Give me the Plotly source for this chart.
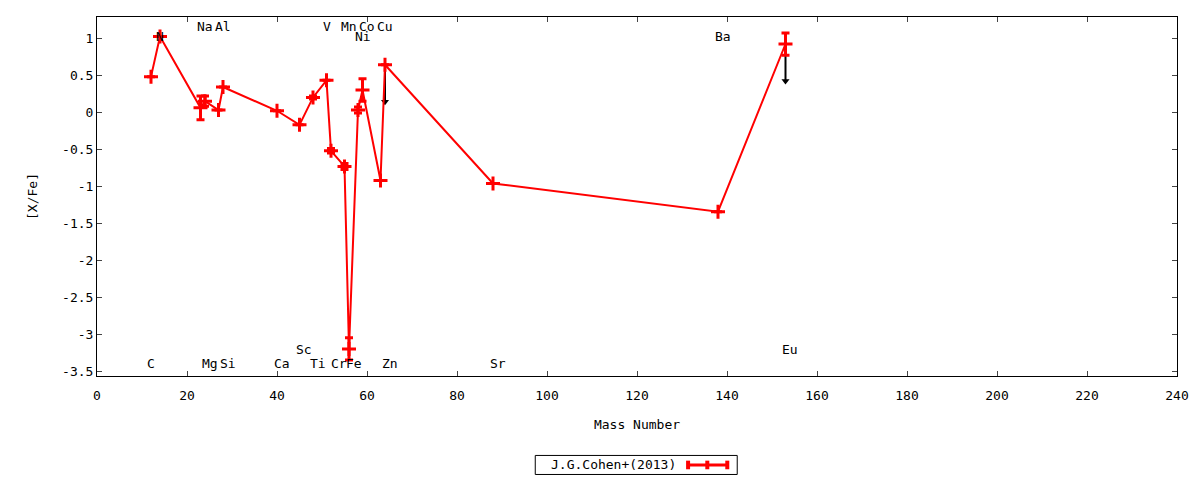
import plotly.graph_objects as go

# abundance pattern, J.G.Cohen+(2013)
mass = [12, 14, 23, 24, 27, 28, 40, 45, 48, 51, 52, 55, 56, 58, 59, 63, 64, 88, 138, 153]
xfe = [0.48, 1.02, 0.06, 0.15, 0.03, 0.34, 0.02, -0.17, 0.20, 0.43, -0.52, -0.73, -3.19, 0.03, 0.30, -0.92, 0.64, -0.96, -1.34, 0.92]
err = [0, 0, 0.16, 0.07, 0, 0, 0, 0, 0.02, 0, 0.03, 0.04, 0.15, 0.04, 0.15, 0, 0, 0, 0, 0.15]

# upper limits (arrow down)
lim_mass = [64, 153]
lim_from = [0.64, 0.92]
lim_to = [0.14, 0.42]

# element labels
el_name = ["C", "N", "Na", "Mg", "Al", "Si", "Ca", "Sc", "Ti", "V", "Cr", "Mn", "Fe", "Ni", "Co", "Cu", "Zn", "Sr", "Ba", "Eu"]
el_x = [12.1, 14.1, 24.1, 25.2, 27.9, 29.0, 41.2, 45.9, 49.2, 51.0, 53.7, 56.0, 57.0, 59.0, 60.0, 64.1, 65.2, 89.0, 139.0, 154.1]
el_y = [-3.39, 1.02, 1.15, -3.39, 1.15, -3.39, -3.39, -3.2, -3.39, 1.15, -3.39, 1.15, -3.39, 1.02, 1.15, 1.15, -3.39, -3.39, 1.02, -3.2]

xticks = list(range(0, 241, 20))
yticks = [1, 0.5, 0, -0.5, -1, -1.5, -2, -2.5, -3, -3.5]
yticktext = ["1", "0.5", "0", "-0.5", "-1", "-1.5", "-2", "-2.5", "-3", "-3.5"]

font = "DejaVu Sans Mono"

fig = go.Figure()

lx, ly = [], []
for m, a, b in zip(lim_mass, lim_from, lim_to):
    lx += [m, m, None]
    ly += [a, b, None]
fig.add_trace(go.Scatter(x=lx, y=ly, mode="lines", line=dict(color="black", width=2),
                         showlegend=False, hoverinfo="skip"))
fig.add_trace(go.Scatter(x=lim_mass, y=lim_to, mode="markers",
                         marker=dict(symbol="triangle-down", size=7, color="black"),
                         showlegend=False, hoverinfo="skip"))

fig.add_trace(go.Scatter(
    x=mass, y=xfe, mode="lines+markers", name="J.G.Cohen+(2013)",
    line=dict(color="#ff0000", width=2),
    marker=dict(symbol="cross-thin", size=10, line=dict(color="#ff0000", width=3)),
    error_y=dict(type="data", array=err, visible=True, color="#ff0000", thickness=3, width=4),
    showlegend=False,
))

for n, x, y in zip(el_name, el_x, el_y):
    fig.add_annotation(x=x, y=y, text=n, showarrow=False, xref="x", yref="y",
                       font=dict(family=font, size=13, color="black"))

# legend box drawn by hand (gnuplot style: text left, sample right)
fig.add_shape(type="rect", xref="paper", yref="paper", x0=0.4058, x1=0.5928, y0=-0.2743, y1=-0.2213,
              line=dict(color="black", width=1), fillcolor="white")
fig.add_annotation(x=0.478, y=-0.2478, xref="paper", yref="paper", text="J.G.Cohen+(2013)",
                   showarrow=False, yanchor="middle", xanchor="center",
                   font=dict(family=font, size=13, color="black"))
fig.add_shape(type="line", xref="paper", yref="paper", x0=0.5473, x1=0.5836, y0=-0.2478, y1=-0.2478,
              line=dict(color="#ff0000", width=3))
for cx in [0.5473, 0.5651, 0.5836]:
    fig.add_shape(type="line", xref="paper", yref="paper", x0=cx, x1=cx, y0=-0.2598, y1=-0.2358,
                  line=dict(color="#ff0000", width=4))

fig.update_xaxes(range=[0, 240], tickvals=xticks, ticks="inside", ticklen=5, mirror="ticks",
                 showline=True, linecolor="black", linewidth=1, showgrid=False, zeroline=False,
                 ticklabelstandoff=7,
                 title=dict(text="Mass Number", standoff=18, font=dict(family=font, size=13)),
                 tickfont=dict(family=font, size=13))
fig.update_yaxes(range=[-3.555, 1.284], tickvals=yticks, ticktext=yticktext, ticks="inside", ticklen=5,
                 mirror="ticks", showline=True, linecolor="black", linewidth=1, showgrid=False,
                 zeroline=False,
                 title=dict(text="[X/Fe]", standoff=21, font=dict(family=font, size=13)),
                 tickfont=dict(family=font, size=13))

# page has an 8px body margin, so the figure is a bit smaller than the window
fig.update_layout(width=1192, height=472, plot_bgcolor="white", paper_bgcolor="white",
                  margin=dict(l=89, r=23, t=9, b=104), font=dict(family=font, size=13, color="black"))

fig.write_html("out.html")
